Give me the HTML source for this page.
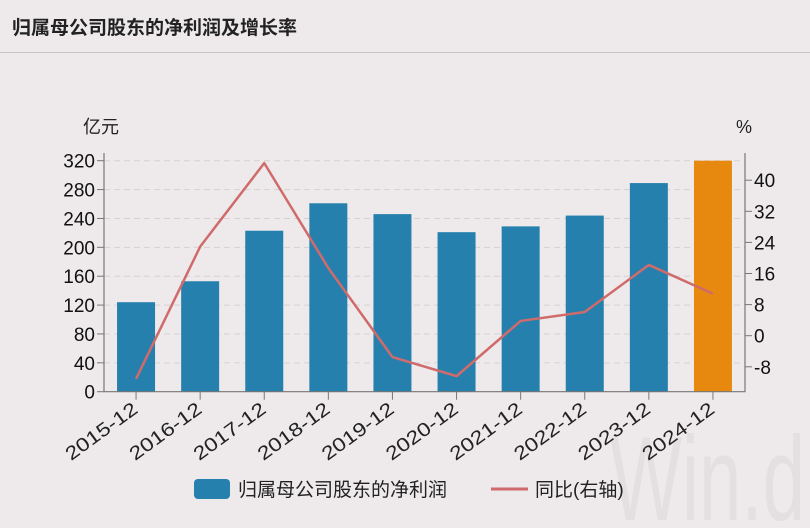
<!DOCTYPE html>
<html><head><meta charset="utf-8"><style>
body{margin:0;background:#eeeaeb;width:810px;height:528px;overflow:hidden;font-family:"Liberation Sans","Noto Sans CJK SC",sans-serif;}
</style></head><body>
<svg width="810" height="528" style="position:absolute;left:0;top:0">
<rect width="810" height="528" fill="#eeeaeb"/>
<text x="610" y="520" font-size="120" fill="#e4dfe0" textLength="195" lengthAdjust="spacingAndGlyphs" font-family="Liberation Sans,sans-serif">Win.d</text>
<text x="12" y="34" font-size="19" font-weight="bold" fill="#222" font-family="Liberation Sans,Noto Sans CJK SC,sans-serif">归属母公司股东的净利润及增长率</text>
<line x1="0" y1="52.5" x2="810" y2="52.5" stroke="#c8c4c5"/>
<g id="plot"></g>
</svg>
<script>
const categories=["2015-12","2016-12","2017-12","2018-12","2019-12","2020-12","2021-12","2022-12","2023-12","2024-12"];
const profitValues=[124,153,223,261,246,221,229,244,289,320];
const yoyValues=[-11.1,22.9,44.4,17.4,-5.5,-10.4,3.8,6.1,18.2,10.8];
const leftTicks=[0,40,80,120,160,200,240,280,320];
const rightTicks=[-8,0,8,16,24,32,40];
const NS="http://www.w3.org/2000/svg";
const g=document.getElementById('plot');
const X0=104,X1=745,YB=391.7;
const yL=v=>YB-v*(231/320);
const yR=v=>335.7-v*(31.1/8);
const band=(X1-X0)/categories.length;
const xC=i=>X0+band*(i+0.5);
function el(t,a,txt){const e=document.createElementNS(NS,t);for(const k in a)e.setAttribute(k,a[k]);if(txt!==undefined)e.textContent=txt;g.appendChild(e);return e;}
leftTicks.forEach(v=>{if(v>0){const l=el('line',{x1:X0,x2:X1,y1:yL(v),y2:yL(v),stroke:'#d6d0d1','stroke-dasharray':'6,4'});}});
categories.forEach((c,i)=>{const h=YB-yL(profitValues[i]);const r=el('rect',{x:xC(i)-19,y:yL(profitValues[i]),width:38,height:h,fill:i===categories.length-1?'#e8890f':'#2580ad'});});
const pts=yoyValues.map((v,i)=>xC(i)+','+yR(v)).join(' ');
const pl=el('polyline',{points:pts,fill:'none',stroke:'#d06b6b','stroke-width':2.5,'stroke-linejoin':'round'});

const ax=el('path',{d:`M${X0},153V${YB}H${X1}V153`,fill:'none',stroke:'#777','stroke-width':1.2});

leftTicks.forEach(v=>{el('line',{x1:X0-7,x2:X0,y1:yL(v),y2:yL(v),stroke:'#777'});const t=el('text',{x:X0-9,y:yL(v)+7,'text-anchor':'end','font-size':19,fill:'#111'},v);});
rightTicks.forEach(v=>{el('line',{x1:X1,x2:X1+7,y1:yR(v),y2:yR(v),stroke:'#777'});const t=el('text',{x:X1+9,y:yR(v)+7,'font-size':19,fill:'#111'},v);});
categories.forEach((c,i)=>{el('line',{x1:xC(i),x2:xC(i),y1:YB,y2:YB+8,stroke:'#777'});const t=el('text',{x:xC(i)+3,y:YB+20,'text-anchor':'end','font-size':19,textLength:84,lengthAdjust:'spacingAndGlyphs',fill:'#222',transform:`rotate(-36 ${xC(i)+3} ${YB+20})`},c);});
const u1=el('text',{x:83,y:133,'font-size':18,fill:'#222'},'亿元');
const u2=el('text',{x:736,y:133,'font-size':18,fill:'#222'},'%');
const lb=el('rect',{x:194,y:479,width:36,height:20,rx:4,fill:'#2580ad'});
const lt=el('text',{x:238,y:496,'font-size':19,fill:'#222'},'归属母公司股东的净利润');
const ll=el('line',{x1:491,x2:528,y1:489,y2:489,stroke:'#d06b6b','stroke-width':3});
const lt2=el('text',{x:535,y:496,'font-size':19,fill:'#222'},'同比(右轴)');
</script>
</body></html>
